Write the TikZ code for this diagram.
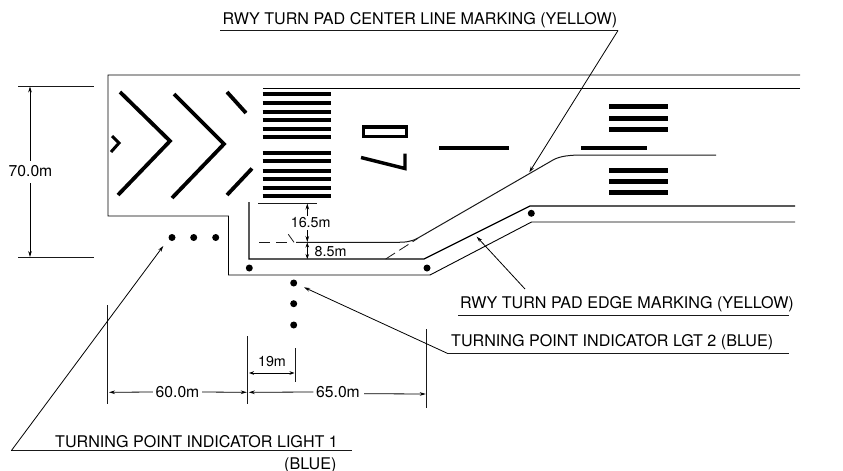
\documentclass[tikz,border=0pt]{standalone}
\usepackage{fontspec}
\setmainfont{TeX Gyre Heros}
\usetikzlibrary{arrows.meta}
\tikzset{
  thinl/.style={line width=0.8pt,line cap=butt,draw=black!90},
  edgel/.style={line width=1pt,line join=miter},
  marking/.style={line width=3.8pt},
  bar/.style={line width=4.2pt},
  rbar/.style={line width=5pt},
  lamp/.style={circle,fill=black,inner sep=0pt,minimum size=7pt},
  lbl/.style={inner sep=0pt,anchor=base west,font=\fontsize{16.1}{18}\selectfont},
  dimt/.style={inner sep=0pt,font=\fontsize{14.3}{16}\selectfont},
  dimb/.style={inner sep=0pt,font=\fontsize{15.7}{17}\selectfont},
  arr/.style={line width=0.8pt,-{Stealth[length=6pt,width=3.6pt]}},
  darr/.style={line width=0.8pt,{Stealth[length=5pt,width=3.6pt]}-{Stealth[length=5pt,width=3.6pt]}},
}
\begin{document}
\begin{tikzpicture}[x=1pt,y=-1pt]
\useasboundingbox (0,0) rectangle (843,471);
\fill[white] (0,0) rectangle (843,471);
% pavement outline
\draw[edgel,line width=0.9pt] (800,75) -- (108,75) -- (108,216) -- (228.5,216) -- (228.5,275) -- (430,275) -- (531.5,222) -- (795,222);
\draw[edgel] (800,88) -- (263,88);
\draw[edgel,line width=1.2pt] (249,202) -- (249,259) -- (424,259) -- (530,206) -- (795,206);
% chevrons
\draw[marking,line join=miter] (120,92) -- (170,141) -- (118,195);
\draw[marking,line join=miter] (174,94) -- (224,144) -- (172,198);
\draw[marking] (227,92) -- (246,113);
\draw[marking] (227,195) -- (252,168.5);
\draw[marking,line width=3pt,line join=miter] (112,136) -- (119,143) -- (111,152);
% threshold bars
\foreach \y in {94,102.7,112,120.3,129,137,153,161.3,170.7,179,187.7,196}
  \draw[bar] (262.5,\y) -- (331,\y);
% designator
\draw[line width=3.4pt] (363.5,127) rectangle (406.5,136.5);
\draw[line width=3.4pt,line join=miter] (361,157.5) -- (405,168.5) -- (405,153.5);
% centre line dashes
\draw[bar] (439,147.7) -- (509,147.7);
\draw[bar] (581,148.3) -- (647,148.3);
\foreach \y in {106.7,118,129,170.7,181.7,192.7}
  \draw[rbar] (609.3,\y) -- (668,\y);
% turn pad centre line
\draw[thinl,line width=1pt] (296,242.3) -- (395,242.3) .. controls (405,242.3) and (411,242) .. (418,238) -- (553,160) .. controls (560,156) and (570,155) .. (583,155) -- (716,155);
\draw[thinl,dash pattern=on 11pt off 6pt] (259,242.5) -- (293,242.5);
\draw[thinl] (288.3,234.3) -- (294,242.3);
\draw[thinl,dash pattern=on 11pt off 5pt] (385.7,259) -- (418,238.3);
% lights
\foreach \n/\x/\y in {a/172/237.5,b/193.7/237.5,c/215.7/237.5,d/249.3/268,e/427/268,f/531.3/213.3,g/293.7/283,h/293.7/303.7,i/293.7/325}
  \node[lamp] (lamp\n) at (\x,\y) {};
% 70 m dimension
\coordinate (t70a) at (18,86);\coordinate (t70b) at (94,86);
\coordinate (b70a) at (18,257.7);\coordinate (b70b) at (94,257.7);
\draw[thinl,line width=1pt] (t70a) -- (t70b);
\draw[thinl,line width=1pt] (b70a) -- (b70b);
\node[dimb] (d70) at (30.5,171) {70.0m};
\coordinate (a70t) at (30,86.5);\coordinate (a70b) at (30,257);
\coordinate (g70t) at (30,160.5);\coordinate (g70b) at (30,183);
\draw[arr] (g70t) -- (a70t);
\draw[arr] (g70b) -- (a70b);
% 16.5 / 8.5
\coordinate (l165a) at (258.3,203.3);\coordinate (l165b) at (317,203.3);
\draw[thinl] (l165a) -- (l165b);
\node[dimt] (d165) at (310.7,223) {16.5m};
\coordinate (a165t) at (307.3,203.5);\coordinate (g165t) at (307.3,216);
\coordinate (a165b) at (307.3,242);\coordinate (g165b) at (307.3,230);
\draw[arr] (g165t) -- (a165t);
\draw[arr] (g165b) -- (a165b);
\node[dimt,anchor=base west] (d85) at (314.5,256) {8.5m};
\coordinate (a85t) at (307.3,242.5);\coordinate (a85b) at (307.3,259);
\draw[darr] (a85t) -- (a85b);
% bottom dimensions
\coordinate (v1a) at (107.7,305);\coordinate (v1b) at (107.7,404);
\coordinate (v2a) at (247.7,336);\coordinate (v2b) at (247.7,404);
\coordinate (v3a) at (295,348.3);\coordinate (v3b) at (295,381.7);
\coordinate (v4a) at (426.7,329);\coordinate (v4b) at (426.7,408);
\draw[thinl] (v1a) -- (v1b);
\draw[thinl] (v2a) -- (v2b);
\draw[thinl] (v3a) -- (v3b);
\draw[thinl] (v4a) -- (v4b);
\node[dimt] (d19) at (272,362) {19m};
\coordinate (a19l) at (249,373);\coordinate (a19r) at (294.5,373);
\draw[darr] (a19l) -- (a19r);
\node[dimb] (d60) at (177.5,392) {60.0m};
\coordinate (a60l) at (109,392.3);\coordinate (a60r) at (246.8,392.3);
\draw[arr] (d60.west) ++(-2.5,0) -- (a60l);
\draw[arr] (d60.east) ++(2.5,0) -- (a60r);
\node[dimb] (d65) at (338,392) {65.0m};
\coordinate (a65l) at (248.8,392.3);\coordinate (a65r) at (425.8,394);
\draw[arr] (d65.west) ++(-2.5,0) -- (a65l);
\draw[arr] (d65.east) ++(4,1.7) -- (a65r);
% labels
\node[lbl] (lcent) at (222.5,24.7) {RWY TURN PAD CENTER LINE MARKING (YELLOW)};
\coordinate (ucl) at (220,30.5);\coordinate (ucr) at (618,30.5);\coordinate (tipc) at (529.3,172.3);
\draw[thinl,line width=1pt] (ucl) -- (ucr);
\draw[arr] (ucr) -- (tipc);
\node[lbl] (ledge) at (460,308) {RWY TURN PAD EDGE MARKING (YELLOW)};
\coordinate (uel) at (458,315);\coordinate (uer) at (789,315);
\coordinate (lde) at (525,289);\coordinate (tipe) at (476.7,236.7);
\draw[thinl,line width=1pt] (uel) -- (uer);
\draw[arr] (lde) -- (tipe);
\node[lbl] (ltp2) at (451,346.7) {TURNING POINT INDICATOR LGT 2 (BLUE)};
\coordinate (u2l) at (447.3,353.3);\coordinate (u2r) at (789,353.3);\coordinate (tip2) at (304,287.3);
\draw[thinl,line width=1pt] (u2l) -- (u2r);
\draw[arr] (u2l) -- (tip2);
\node[lbl] (ltp1) at (55,447.5) {TURNING POINT INDICATOR LIGHT 1};
\node[lbl] (ltp1b) at (284,469) {(BLUE)};
\coordinate (u1l) at (11.3,450.7);\coordinate (u1r) at (351.7,450.7);\coordinate (tip1) at (163.3,246);
\draw[thinl,line width=1pt] (u1l) -- (u1r);
\draw[arr] (u1l) -- (tip1);
\end{tikzpicture}
\end{document}
